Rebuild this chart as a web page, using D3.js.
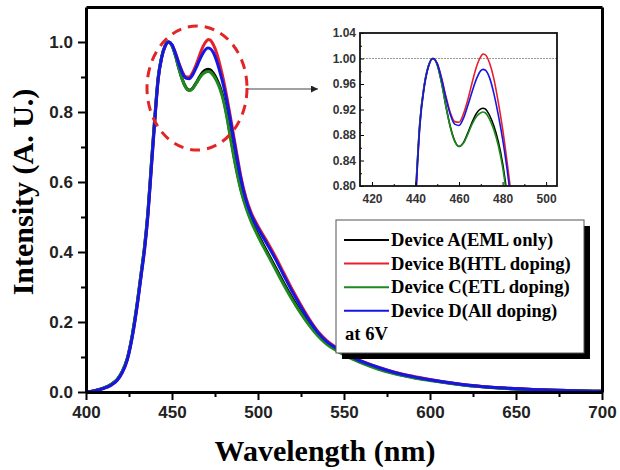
<!DOCTYPE html>
<html>
<head>
<meta charset="utf-8">
<script src="https://cdn.jsdelivr.net/npm/d3@7/dist/d3.min.js"></script>
<style>
  body { margin: 0; background: #fff; }
  .tick text { font-family: "Liberation Sans", Arial, sans-serif; font-weight: bold; }
</style>
</head>
<body>
<div id="chart"></div>
<script>
// wavelength grid (nm)
var wavelength = [400, 405, 410, 415, 418, 421, 424, 427, 430, 432, 434, 436, 438, 440, 442, 444, 446, 448,
    450, 452, 454, 456, 458, 460, 462, 464, 466, 468, 470, 471, 472, 474, 476, 478, 480, 482, 484, 486, 488,
    490, 493, 496, 500, 505, 510, 515, 520, 525, 530, 535, 540, 545, 550, 560, 570, 580, 590, 600, 620, 640,
    660, 680, 700];

// normalized EL intensity of each device
var deviceA = [0.000, 0.004, 0.011, 0.023, 0.035, 0.058, 0.096, 0.166, 0.262, 0.338, 0.414, 0.515, 0.652, 0.785, 0.900, 0.958, 0.989, 1.000,
    0.990, 0.962, 0.925, 0.893, 0.871, 0.862, 0.868, 0.883, 0.900, 0.914, 0.921, 0.922, 0.921, 0.911, 0.894, 0.870, 0.836, 0.788, 0.731, 0.676, 0.626,
    0.582, 0.532, 0.492, 0.450, 0.403, 0.357, 0.311, 0.268, 0.228, 0.193, 0.162, 0.139, 0.122, 0.108, 0.085, 0.067, 0.053, 0.042, 0.034, 0.020, 0.012,
    0.007, 0.004, 0.002];
var deviceB = [0.000, 0.004, 0.010, 0.021, 0.033, 0.055, 0.092, 0.160, 0.255, 0.330, 0.405, 0.505, 0.640, 0.775, 0.895, 0.955, 0.988, 1.000,
    0.992, 0.969, 0.940, 0.915, 0.901, 0.900, 0.913, 0.935, 0.962, 0.987, 1.003, 1.007, 1.006, 0.993, 0.968, 0.932, 0.890, 0.840, 0.785, 0.728, 0.672,
    0.617, 0.555, 0.513, 0.474, 0.432, 0.388, 0.340, 0.292, 0.248, 0.207, 0.172, 0.147, 0.129, 0.113, 0.089, 0.071, 0.056, 0.045, 0.036, 0.021, 0.012,
    0.007, 0.004, 0.002];
var deviceC = [0.000, 0.004, 0.011, 0.023, 0.035, 0.058, 0.096, 0.166, 0.262, 0.338, 0.414, 0.515, 0.652, 0.785, 0.900, 0.958, 0.989, 1.000,
    0.990, 0.961, 0.924, 0.892, 0.870, 0.862, 0.867, 0.881, 0.897, 0.909, 0.915, 0.916, 0.915, 0.905, 0.888, 0.864, 0.830, 0.782, 0.725, 0.670, 0.620,
    0.577, 0.527, 0.487, 0.445, 0.398, 0.352, 0.306, 0.263, 0.224, 0.189, 0.159, 0.136, 0.120, 0.106, 0.083, 0.065, 0.051, 0.041, 0.033, 0.019, 0.011,
    0.006, 0.004, 0.002];
var deviceD = [0.000, 0.004, 0.010, 0.021, 0.033, 0.055, 0.092, 0.160, 0.255, 0.330, 0.405, 0.505, 0.640, 0.775, 0.895, 0.955, 0.988, 1.000,
    0.992, 0.968, 0.938, 0.912, 0.897, 0.895, 0.906, 0.926, 0.948, 0.968, 0.981, 0.983, 0.982, 0.970, 0.945, 0.912, 0.874, 0.828, 0.775, 0.718, 0.662,
    0.610, 0.549, 0.507, 0.468, 0.425, 0.381, 0.333, 0.286, 0.243, 0.203, 0.169, 0.144, 0.127, 0.111, 0.088, 0.070, 0.055, 0.044, 0.035, 0.021, 0.012,
    0.007, 0.004, 0.002];

var seriesNames = ["Device A(EML only)", "Device B(HTL doping)", "Device C(ETL doping)", "Device D(All doping)"];
var seriesColors = ["#000000", "#e8202a", "#1e8a1e", "#1515e6"];
var seriesValues = [deviceA, deviceB, deviceC, deviceD];

var xTicks = [400, 450, 500, 550, 600, 650, 700];
var yTicks = [0.0, 0.2, 0.4, 0.6, 0.8, 1.0];
var insetXTicks = [420, 440, 460, 480, 500];
var insetYTicks = [0.80, 0.84, 0.88, 0.92, 0.96, 1.00, 1.04];

var svg = d3.select('#chart').append('svg')
    .attr('width', 620)
    .attr('height', 470);

// main plot
var x = d3.scaleLinear().domain([400, 700]).range([86, 602]);
var y = d3.scaleLinear().domain([0, 1.1]).range([392, 7]);

var line = d3.line()
    .x(function (d) { return x(d[0]); })
    .y(function (d) { return y(d[1]); })
    .curve(d3.curveMonotoneX);

seriesValues.forEach(function (vals, i) {
    svg.append('path')
        .datum(wavelength.map(function (w, k) { return [w, vals[k]]; }))
        .attr('d', line)
        .attr('fill', 'none')
        .attr('stroke', seriesColors[i])
        .attr('stroke-width', 3)
        .attr('stroke-linejoin', 'round');
});

// minor ticks first, then major
svg.append('g').attr('transform', 'translate(0,392)')
    .call(d3.axisBottom(x).tickValues(d3.range(425, 700, 50)).tickSize(5).tickFormat(''))
    .call(function (g) { g.select('.domain').remove(); g.selectAll('line').attr('stroke-width', 2); });
svg.append('g').attr('transform', 'translate(86,0)')
    .call(d3.axisLeft(y).tickValues(d3.range(0.1, 1.1, 0.2)).tickSize(5).tickFormat(''))
    .call(function (g) { g.select('.domain').remove(); g.selectAll('line').attr('stroke-width', 2); });

svg.append('g').attr('transform', 'translate(0,392)')
    .call(d3.axisBottom(x).tickValues(xTicks).tickSize(8).tickSizeOuter(0).tickPadding(6))
    .call(function (g) {
        g.select('.domain').attr('stroke-width', 3);
        g.selectAll('line').attr('stroke-width', 2);
        g.selectAll('text').attr('font-size', 17).attr('fill', '#222');
    });
svg.append('g').attr('transform', 'translate(86,0)')
    .call(d3.axisLeft(y).tickValues(yTicks).tickFormat(d3.format('.1f')).tickSize(8).tickSizeOuter(0).tickPadding(5))
    .call(function (g) {
        g.select('.domain').attr('stroke-width', 3);
        g.selectAll('line').attr('stroke-width', 2);
        g.selectAll('text').attr('font-size', 17).attr('fill', '#222');
    });
svg.append('g').attr('transform', 'translate(0,7)')
    .call(d3.axisTop(x).tickValues([]).tickSizeOuter(0))
    .call(function (g) { g.select('.domain').attr('stroke-width', 3); });
svg.append('g').attr('transform', 'translate(602,0)')
    .call(d3.axisRight(y).tickValues([]).tickSizeOuter(0))
    .call(function (g) { g.select('.domain').attr('stroke-width', 3); });

// axis titles
svg.append('text')
    .attr('x', 325).attr('y', 461)
    .attr('text-anchor', 'middle')
    .attr('font-family', '"Liberation Serif", "Times New Roman", serif')
    .attr('font-weight', 'bold').attr('font-size', 30)
    .text('Wavelength (nm)');
svg.append('text')
    .attr('transform', 'translate(33,192) rotate(-90)')
    .attr('text-anchor', 'middle')
    .attr('font-family', '"Liberation Serif", "Times New Roman", serif')
    .attr('font-weight', 'bold').attr('font-size', 30)
    .text('Intensity (A. U.)');

// dashed ellipse round the peaks, and arrow to the inset
svg.append('ellipse')
    .attr('cx', 197).attr('cy', 88).attr('rx', 50).attr('ry', 62)
    .attr('fill', 'none').attr('stroke', '#e42525')
    .attr('stroke-width', 3).attr('stroke-dasharray', '10,7');

svg.append('defs').append('marker')
    .attr('id', 'arrow').attr('viewBox', '0 0 10 10')
    .attr('refX', 10).attr('refY', 5)
    .attr('markerWidth', 9).attr('markerHeight', 7)
    .attr('markerUnits', 'userSpaceOnUse')
    .attr('orient', 'auto')
    .append('path').attr('d', 'M0,0L10,5L0,10z').attr('fill', '#222');
svg.append('line')
    .attr('x1', 248).attr('y1', 89).attr('x2', 318).attr('y2', 89)
    .attr('stroke', '#444').attr('stroke-width', 1.2)
    .attr('marker-end', 'url(#arrow)');

// inset
var ix = d3.scaleLinear().domain([414.5, 505]).range([360, 557]);
var iy = d3.scaleLinear().domain([0.80, 1.04]).range([186, 33]);

svg.append('clipPath').attr('id', 'insetClip')
    .append('rect').attr('x', 360).attr('y', 33).attr('width', 197).attr('height', 153);

var iline = d3.line()
    .x(function (d) { return ix(d[0]); })
    .y(function (d) { return iy(d[1]); })
    .curve(d3.curveMonotoneX);

svg.append('line')
    .attr('x1', 360).attr('x2', 557).attr('y1', iy(1.0)).attr('y2', iy(1.0))
    .attr('stroke', '#999').attr('stroke-width', 1).attr('stroke-dasharray', '2,1');

var ig = svg.append('g').attr('clip-path', 'url(#insetClip)');
seriesValues.forEach(function (vals, i) {
    ig.append('path')
        .datum(wavelength.map(function (w, k) { return [w, vals[k]]; }))
        .attr('d', iline)
        .attr('fill', 'none')
        .attr('stroke', seriesColors[i])
        .attr('stroke-width', 1.6);
});

svg.append('g').attr('transform', 'translate(0,186)')
    .call(d3.axisBottom(ix).tickValues(d3.range(430, 510, 20)).tickSize(-2).tickFormat(''))
    .call(function (g) { g.select('.domain').remove(); });
svg.append('g').attr('transform', 'translate(360,0)')
    .call(d3.axisLeft(iy).tickValues(d3.range(0.82, 1.04, 0.04)).tickSize(-2).tickFormat(''))
    .call(function (g) { g.select('.domain').remove(); });
svg.append('g').attr('transform', 'translate(0,186)')
    .call(d3.axisBottom(ix).tickValues(insetXTicks).tickSize(-4).tickSizeOuter(0).tickPadding(8))
    .call(function (g) {
        g.select('.domain').remove();
        g.selectAll('text').attr('font-size', 12).attr('fill', '#333');
    });
svg.append('g').attr('transform', 'translate(360,0)')
    .call(d3.axisLeft(iy).tickValues(insetYTicks).tickFormat(d3.format('.2f')).tickSize(-4).tickSizeOuter(0).tickPadding(4))
    .call(function (g) {
        g.select('.domain').remove();
        g.selectAll('text').attr('font-size', 12).attr('fill', '#333');
    });
svg.append('rect')
    .attr('x', 360).attr('y', 33).attr('width', 197).attr('height', 153)
    .attr('fill', 'none').attr('stroke', '#111').attr('stroke-width', 1.8);

// legend with drop shadow
var legend = svg.append('g');
legend.append('rect')
    .attr('x', 342).attr('y', 226).attr('width', 248).attr('height', 133)
    .attr('fill', '#000');
legend.append('rect')
    .attr('x', 336).attr('y', 220).attr('width', 248).attr('height', 133)
    .attr('fill', '#fff').attr('stroke', '#555').attr('stroke-width', 1);

seriesNames.forEach(function (name, i) {
    var ly = 240 + i * 23.6;
    legend.append('line')
        .attr('x1', 344).attr('x2', 389).attr('y1', ly).attr('y2', ly)
        .attr('stroke', seriesColors[i]).attr('stroke-width', 2);
    legend.append('text')
        .attr('x', 391).attr('y', ly + 6)
        .attr('font-family', '"Liberation Serif", "Times New Roman", serif')
        .attr('font-weight', 'bold').attr('font-size', 18.6)
        .text(name);
});
legend.append('text')
    .attr('x', 345).attr('y', 340)
    .attr('font-family', '"Liberation Serif", "Times New Roman", serif')
    .attr('font-weight', 'bold').attr('font-size', 18.6)
    .text('at 6V');
</script>
</body>
</html>
